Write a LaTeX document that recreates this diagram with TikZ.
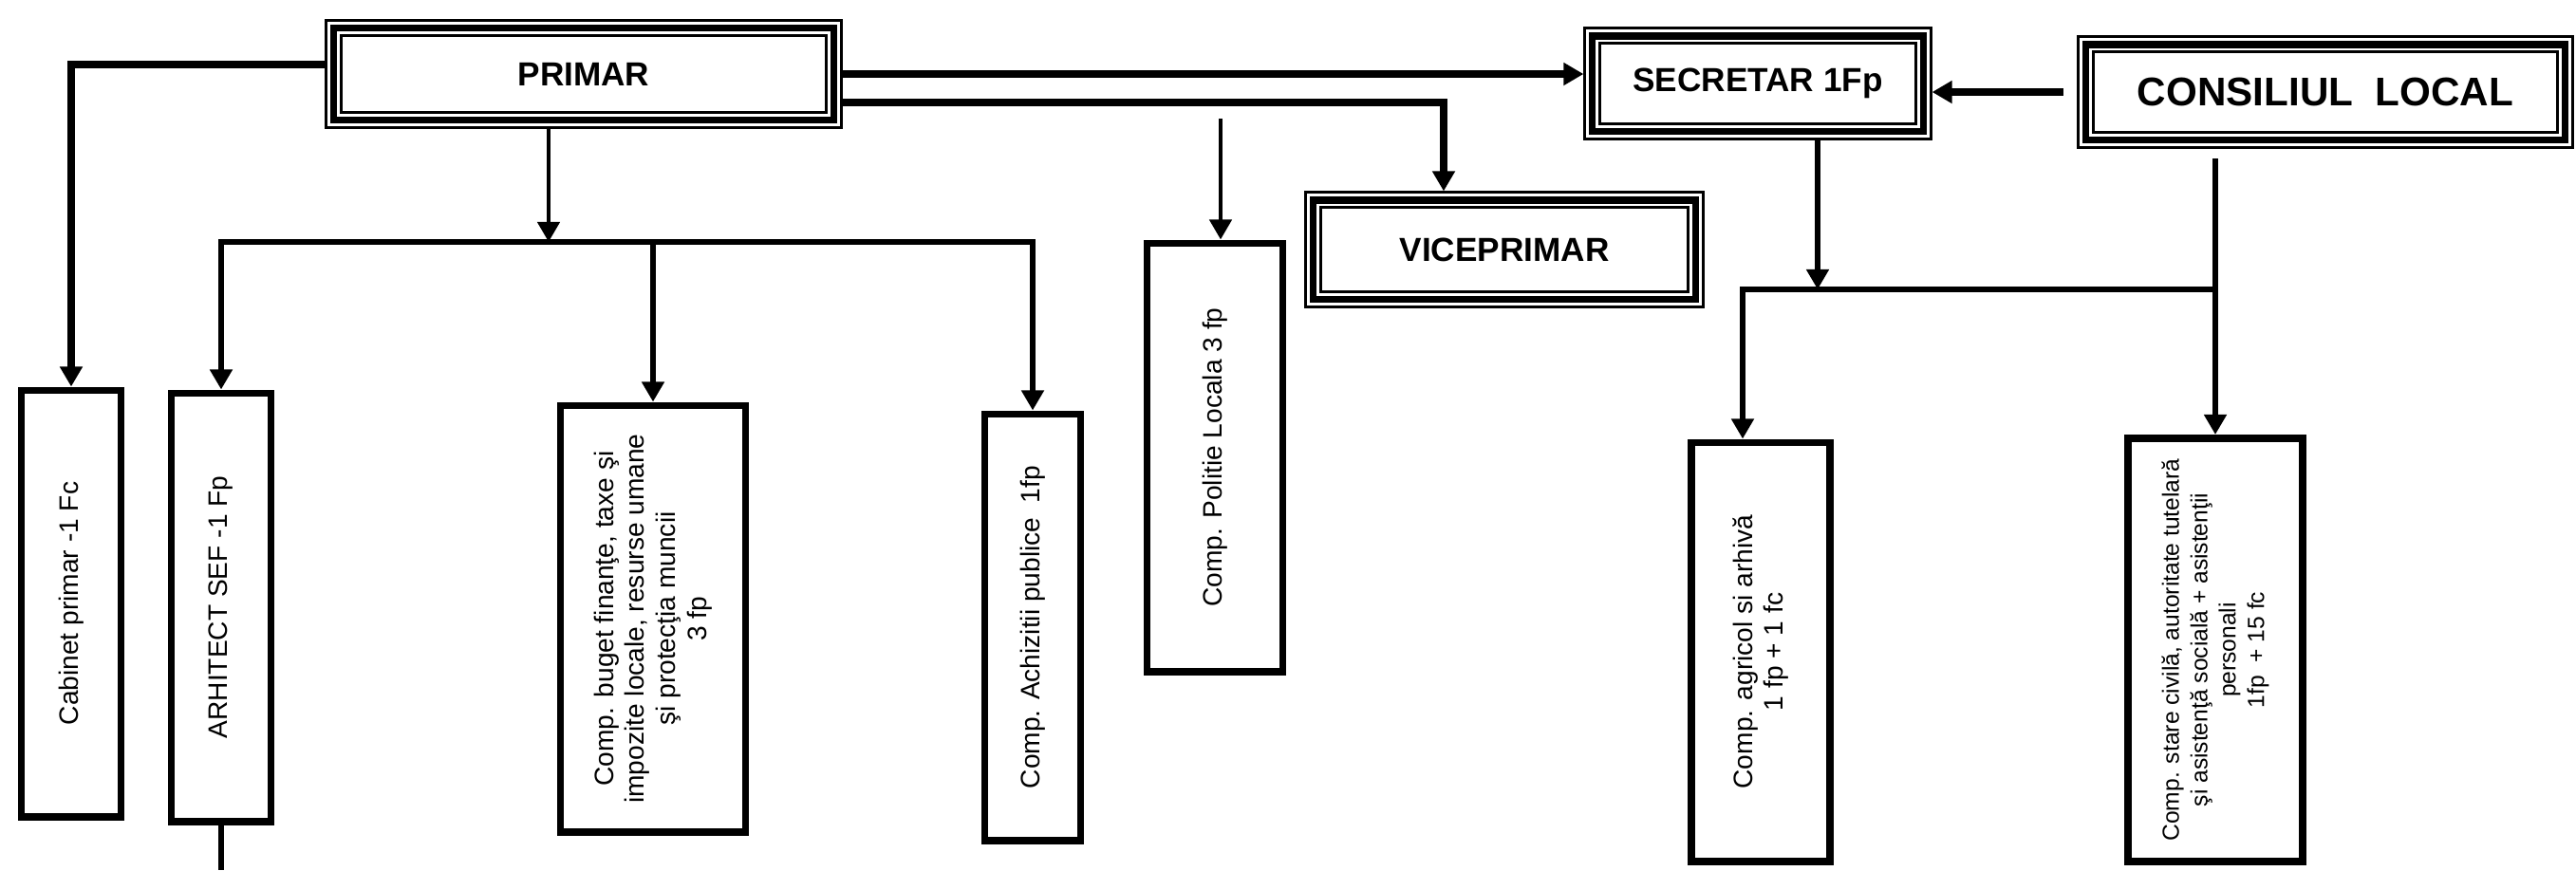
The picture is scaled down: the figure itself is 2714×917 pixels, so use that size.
\documentclass[tikz,border=0pt]{standalone}
\usepackage{fontspec}
\setmainfont{Liberation Sans}
\usetikzlibrary{arrows.meta,calc}
\begin{document}
\begin{tikzpicture}[x=0.01cm, y=-0.01cm,
    >={Triangle[length=6pt,width=6.5pt]},
    tribox/.style={draw, line width=5.4pt, postaction={draw=white, line width=3.7pt}, postaction={draw, line width=2pt}, inner sep=0pt, font=\bfseries\fontsize{10}{12}\selectfont},
    rotbox/.style={draw, line width=2.2pt, rotate=90, inner sep=2pt, align=center, font=\fontsize{8}{9.3}\selectfont},
    conn/.style={line width=1.8pt},
    thickconn/.style={line width=2.5pt},
    thinconn/.style={line width=1.4pt}]
    \useasboundingbox (0,0) rectangle (2714,917);
    \node[tribox, minimum width=5.27cm, minimum height=0.97cm] (primar) at (615,78) {PRIMAR};
    \node[tribox, minimum width=3.48cm, minimum height=1.00cm] (secretar) at (1852,88) {SECRETAR 1Fp};
    \node[tribox, minimum width=5.05cm, minimum height=1.00cm, font=\bfseries\fontsize{12}{14}\selectfont] (consiliu) at (2450,97) {CONSILIUL~~LOCAL};
    \node[tribox, minimum width=4.02cm, minimum height=1.04cm] (vice) at (1585,263) {VICEPRIMAR};
    \node[rotbox, minimum width=4.49cm, minimum height=1.05cm] (cabinet) at (75,636) {Cabinet primar -1 Fc};
    \node[rotbox, minimum width=4.51cm, minimum height=1.05cm] (arhitect) at (233,640) {ARHITECT SEF -1 Fp};
    \node[rotbox, minimum width=4.49cm, minimum height=1.95cm] (buget) at (688,652) {Comp. buget finanţe, taxe şi\\impozite locale, resurse umane\\şi protecţia muncii\\3 fp};
    \node[rotbox, minimum width=4.49cm, minimum height=1.01cm] (achizitii) at (1088,661) {Comp. Achizitii publice~~1fp};
    \node[rotbox, minimum width=4.51cm, minimum height=1.43cm] (politie) at (1280,482) {Comp. Politie Locala 3 fp};
    \node[rotbox, minimum width=4.41cm, minimum height=1.46cm] (agricol) at (1855,687) {Comp. agricol si arhivă\\1 fp + 1 fc};
    \node[rotbox, minimum width=4.46cm, minimum height=1.84cm, font=\fontsize{7}{8.5}\selectfont] (stare) at (2334,685) {Comp. stare civilă, autoritate tutelară\\şi asistenţă socială + asistenţii\\personali\\1fp~~+ 15 fc};
    \coordinate (bus1) at (578,255);
    \coordinate (bus2) at (1915,305);
    \coordinate (bus2left) at (1836,305);
    \coordinate (polstart) at (1286,125);
    \coordinate (arhend) at (233,917);
    \draw[thickconn,->] ($(primar.west)+(0,-10)$) -| (cabinet.east);
    \draw[thinconn,->] (bus1 |- primar.south) -- (bus1);
    \draw[conn,<->] (arhitect.east) |- (bus1) -| (achizitii.east);
    \draw[conn,->] (bus1 -| buget.east) -- (buget.east);
    \draw[thickconn,->] (primar.east) -- (primar.east -| secretar.west);
    \draw[thickconn,->] ($(primar.east)+(0,30)$) -| ($(vice.north)+(-64,0)$);
    \draw[thinconn,->] (polstart) -- (polstart |- politie.east);
    \draw[thickconn,->,shorten <=4pt] (consiliu.west) -- (consiliu.west -| secretar.east);
    \draw[conn,->] (bus2 |- secretar.south) -- (bus2);
    \draw[conn,->] (stare.east |- bus2left) -- (bus2left) -- (bus2left |- agricol.east);
    \draw[conn,->,shorten <=3pt] (consiliu.south -| stare.east) -- (stare.east);
    \draw[conn] (arhitect.west) -- (arhend);
\end{tikzpicture}
\end{document}
